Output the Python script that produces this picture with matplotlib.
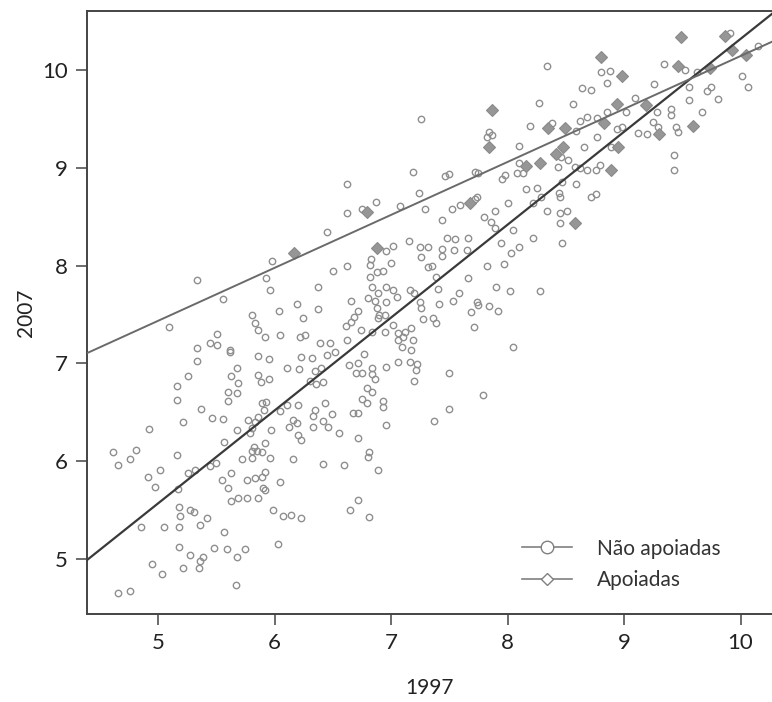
import matplotlib.pyplot as plt
from matplotlib.lines import Line2D
import numpy as np

plt.rcParams['font.family'] = ['Lato', 'DejaVu Sans']

# Não apoiadas (circulos)
nao_x = [6.62, 6.62, 6.75, 6.87, 6.45, 6.96, 7.02, 7.08, 5.98, 5.33, 5.56, 5.93, 5.96, 6.50, 6.62,
         6.37, 6.37, 6.19, 6.04, 6.24, 5.81, 5.83, 5.86, 5.92, 6.05, 6.22, 6.26, 5.51, 5.45, 5.51,
         5.09, 5.33, 5.62, 6.39, 6.48, 6.62, 6.61, 6.66, 6.68, 6.72, 6.66, 6.74, 6.84, 6.95, 6.80,
         6.86, 6.89, 6.84, 6.96, 6.82, 6.82, 6.83, 6.88, 6.93, 7.00, 7.02, 7.05, 6.96, 6.88, 6.90,
         6.95, 6.89, 7.02, 7.06, 7.06, 7.26, 8.34, 8.80, 8.88, 8.85, 8.64, 8.72, 9.91, 10.15, 9.34,
         9.52, 9.63, 10.01, 10.06, 9.56, 9.56, 9.71, 9.75, 9.81, 9.67, 9.26, 9.40, 9.40, 9.45, 9.46,
         9.43, 9.43, 9.09, 9.28, 9.25, 9.29, 9.12, 9.20, 9.02, 8.98, 8.94, 8.85, 8.77, 8.68, 8.62,
         8.56, 8.27, 8.38, 8.19, 7.82, 7.87, 7.84, 8.10, 8.59, 8.46, 8.52, 8.77, 8.66, 8.89, 8.79,
         8.76, 8.68, 8.62, 8.58, 8.10, 8.08, 8.13, 8.43, 7.95, 7.98, 7.72, 7.75, 7.50, 7.46, 7.19,
         7.24, 7.29, 7.44, 7.52, 7.59, 7.72, 7.74, 8.00, 8.16, 8.25, 8.29, 8.45, 8.44, 8.47, 8.59,
         8.72, 8.76, 8.34, 8.45, 8.51, 8.45, 8.47, 8.22, 7.80, 7.89, 7.86, 7.89, 8.05, 8.22, 8.10,
         8.03, 7.94, 7.97, 7.82, 7.66, 7.55, 7.48, 7.54, 7.44, 7.44, 7.65, 7.32, 7.25, 7.26, 7.32,
         7.35, 7.39, 7.40, 7.15, 7.16, 7.20, 7.25, 7.26, 7.41, 7.27, 7.36, 7.39, 7.53, 7.58, 7.66,
         7.74, 7.75, 7.69, 7.71, 7.84, 7.92, 7.90, 8.02, 8.28, 8.05, 7.17, 7.19, 7.10, 7.12, 7.09,
         5.33, 5.26, 5.16, 5.16, 5.62, 5.68, 5.63, 5.69, 5.60, 5.60, 5.68, 5.86, 5.95, 5.86, 5.88,
         5.95, 6.11, 6.21, 6.23, 6.32, 6.45, 6.52, 6.35, 6.40, 6.30, 6.36, 6.42, 6.77, 6.64, 6.72,
         6.70, 6.75, 6.84, 6.84, 6.86, 6.96, 7.06, 6.79, 6.84, 6.75, 6.79, 6.93, 6.93, 6.96, 6.81,
         6.80, 6.89, 6.72, 6.67, 6.72, 6.65, 6.72, 6.81, 6.60, 6.42, 6.55, 6.49, 6.43, 6.35, 6.33,
         6.33, 6.46, 6.42, 6.20, 6.16, 6.19, 6.12, 6.20, 6.23, 6.16, 6.11, 6.05, 5.97, 5.93, 5.89,
         5.91, 5.86, 5.83, 5.77, 5.81, 5.68, 5.79, 5.82, 5.81, 5.85, 5.89, 5.92, 5.81, 5.96, 5.72,
         5.57, 5.63, 5.55, 5.60, 5.63, 5.69, 5.76, 5.76, 5.83, 5.86, 5.89, 5.92, 5.90, 5.92, 6.05,
         5.99, 6.07, 6.14, 6.23, 6.03, 5.75, 5.68, 5.67, 5.57, 5.59, 5.48, 5.39, 5.36, 5.35, 5.27,
         5.21, 5.18, 5.03, 4.95, 4.66, 4.76, 5.18, 5.05, 4.85, 5.36, 5.42, 5.27, 5.31, 5.19, 5.18,
         5.17, 5.26, 5.32, 5.45, 5.50, 5.02, 4.97, 4.91, 5.16, 4.76, 4.66, 4.61, 4.81, 4.92, 5.21,
         5.37, 5.46, 5.56, 7.17, 7.16, 7.22, 7.21, 7.20, 7.50, 7.79, 7.50, 7.37]
nao_y = [8.83, 8.54, 8.58, 8.65, 8.34, 8.15, 8.20, 8.61, 8.05, 7.85, 7.66, 7.87, 7.75, 7.94, 7.99,
         7.78, 7.56, 7.61, 7.54, 7.46, 7.49, 7.41, 7.34, 7.27, 7.29, 7.27, 7.29, 7.30, 7.21, 7.19,
         7.37, 7.16, 7.14, 7.21, 7.21, 7.24, 7.38, 7.42, 7.47, 7.54, 7.64, 7.34, 7.32, 7.32, 7.67,
         7.64, 7.72, 7.78, 7.78, 7.88, 8.01, 8.07, 7.93, 7.94, 8.03, 7.75, 7.68, 7.63, 7.57, 7.49,
         7.49, 7.46, 7.39, 7.31, 7.24, 9.50, 10.04, 9.98, 9.99, 9.86, 9.81, 9.79, 10.38, 10.24, 10.06,
         10.00, 9.98, 9.94, 9.82, 9.82, 9.69, 9.78, 9.82, 9.70, 9.57, 9.85, 9.60, 9.54, 9.41, 9.36,
         9.13, 8.98, 9.71, 9.57, 9.47, 9.41, 9.35, 9.34, 9.57, 9.42, 9.39, 9.57, 9.51, 9.52, 9.48,
         9.65, 9.66, 9.46, 9.43, 9.31, 9.33, 9.36, 9.22, 9.37, 9.11, 9.08, 9.31, 9.21, 9.21, 9.03,
         8.98, 8.98, 9.00, 9.01, 9.05, 8.95, 8.95, 9.01, 8.88, 8.92, 8.96, 8.95, 8.93, 8.91, 8.96,
         8.74, 8.58, 8.47, 8.58, 8.62, 8.68, 8.70, 8.64, 8.78, 8.79, 8.70, 8.70, 8.74, 8.85, 8.83,
         8.70, 8.73, 8.56, 8.54, 8.56, 8.43, 8.23, 8.64, 8.50, 8.56, 8.44, 8.38, 8.36, 8.28, 8.19,
         8.13, 8.23, 8.02, 8.00, 8.28, 8.27, 8.28, 8.16, 8.17, 8.10, 8.16, 8.19, 8.19, 8.09, 7.98,
         8.00, 7.88, 7.76, 8.25, 7.75, 7.72, 7.63, 7.57, 7.61, 7.45, 7.46, 7.41, 7.64, 7.72, 7.87,
         7.63, 7.60, 7.53, 7.37, 7.59, 7.54, 7.78, 7.74, 7.74, 7.17, 7.36, 7.24, 7.27, 7.32, 7.17,
         7.02, 6.87, 6.77, 6.63, 7.12, 6.95, 6.87, 6.80, 6.71, 6.62, 6.70, 7.08, 7.04, 6.88, 6.81,
         6.84, 6.95, 6.94, 7.07, 7.06, 7.09, 7.12, 6.92, 6.95, 6.82, 6.79, 6.81, 7.10, 6.98, 7.00,
         6.90, 6.90, 6.95, 6.89, 6.84, 6.96, 7.01, 6.75, 6.71, 6.64, 6.60, 6.62, 6.55, 6.37, 6.09,
         6.04, 5.91, 6.24, 6.49, 6.49, 5.50, 5.60, 5.43, 5.96, 5.97, 6.29, 6.48, 6.60, 6.52, 6.46,
         6.35, 6.35, 6.41, 6.57, 6.42, 6.39, 6.35, 6.27, 6.22, 6.02, 6.57, 6.51, 6.32, 6.61, 6.60,
         6.52, 6.45, 6.40, 6.42, 6.34, 6.32, 6.29, 6.15, 6.11, 6.11, 6.09, 6.19, 6.03, 6.03, 6.02,
         6.20, 5.88, 5.81, 5.73, 5.59, 5.62, 5.63, 5.81, 5.83, 5.63, 5.84, 5.89, 5.73, 5.71, 5.79,
         5.50, 5.44, 5.45, 5.42, 5.16, 5.10, 5.02, 4.74, 5.28, 5.10, 5.11, 5.02, 4.98, 4.91, 5.04,
         4.91, 5.12, 4.85, 4.95, 4.65, 4.67, 5.33, 5.33, 5.33, 5.35, 5.42, 5.50, 5.48, 5.44, 5.53,
         5.72, 5.88, 5.91, 5.95, 5.98, 5.91, 5.74, 5.84, 6.06, 6.02, 5.96, 6.09, 6.12, 6.33, 6.40,
         6.53, 6.44, 6.43, 7.14, 7.01, 6.99, 6.93, 6.82, 6.90, 6.68, 6.53, 6.41]

# Apoiadas (losangos)
apo_x = [6.79, 6.17, 6.88, 8.80, 8.98, 9.49, 9.87, 9.93, 10.05, 9.46, 9.74, 9.59, 8.94, 9.19, 9.30,
         8.83, 7.87, 8.35, 8.49, 7.84, 8.48, 8.42, 8.95, 8.89, 8.28, 8.16, 7.68, 8.58]
apo_y = [8.55, 8.13, 8.18, 10.13, 9.94, 10.33, 10.34, 10.20, 10.15, 10.04, 10.02, 9.43, 9.65, 9.64, 9.34,
         9.46, 9.59, 9.40, 9.40, 9.21, 9.21, 9.14, 9.21, 8.98, 9.05, 9.02, 8.64, 8.43]

# retas ajustadas: intercepto, inclinacao
nao_fit = [0.825, 0.949]
apo_fit = [4.73, 0.541]

ticks = [5, 6, 7, 8, 9, 10]

fig = plt.figure(figsize=(7.72, 7.02), dpi=100)
ax = fig.add_axes([87 / 772, 88 / 702, 685 / 772, 603 / 702])

ax.plot(nao_x, nao_y, 'o', ms=4.6, mfc='none', mec='#8f8f8f', mew=1.0, zorder=2)
ax.plot(apo_x, apo_y, 'D', ms=6, mfc='#969696', mec='#8a8a8a', mew=0.8, zorder=3)
ax.axline((0, nao_fit[0]), slope=nao_fit[1], color='#3a3a3a', lw=1.6, zorder=4)
ax.axline((0, apo_fit[0]), slope=apo_fit[1], color='#6a6a6a', lw=1.4, zorder=4)

ax.set_xlim(4.39, 10.27)
ax.set_ylim(4.44, 10.6)
ax.set_xticks(ticks)
ax.set_yticks(ticks)
ax.spines['right'].set_visible(False)
for s in ['top', 'left', 'bottom']:
    ax.spines[s].set_color('#444444')
    ax.spines[s].set_linewidth(1.4)
ax.tick_params(direction='out', length=8, width=1.1, color='#444444',
               labelsize=16, pad=6, labelcolor='#222222')

ax.set_xlabel('1997', fontsize=15, labelpad=18, color='#222222')
ax.set_ylabel('2007', fontsize=15, labelpad=4, color='#222222')

h1 = Line2D([], [], color='#808080', lw=1.2, marker='o', ms=9, mfc='white', mec='#808080', mew=1.0)
h2 = Line2D([], [], color='#808080', lw=1.2, marker='D', ms=6.5, mfc='white', mec='#808080', mew=1.0)
ax.legend([h1, h2], ['Não apoiadas', 'Apoiadas'], loc='lower left',
          bbox_to_anchor=(522 / 772, 112 / 702), bbox_transform=fig.transFigure,
          frameon=False, fontsize=15, handlelength=2.4, handletextpad=1.2,
          labelspacing=0.55, borderpad=0, borderaxespad=0, labelcolor='#333333')

plt.savefig('out.png', dpi=100)
